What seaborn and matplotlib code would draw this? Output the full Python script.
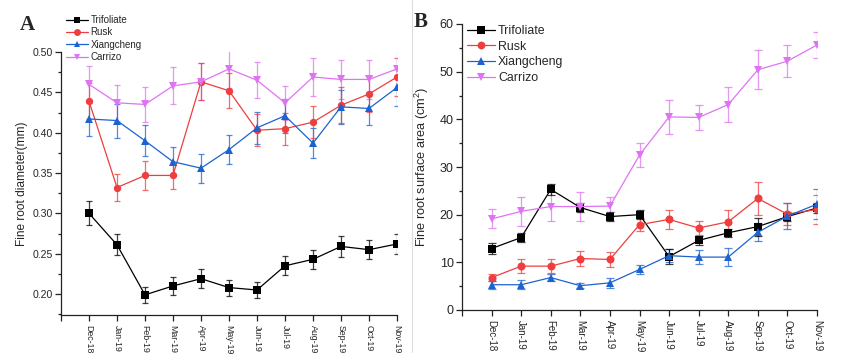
import numpy as np
import pandas as pd
import matplotlib
matplotlib.use("Agg")
import matplotlib.pyplot as plt
import seaborn as sns
from matplotlib.ticker import MultipleLocator, FixedLocator
from matplotlib.lines import Line2D

months = ['Dec-18', 'Jan-19', 'Feb-19', 'Mar-19', 'Apr-19', 'May-19',
          'Jun-19', 'Jul-19', 'Aug-19', 'Sep-19', 'Oct-19', 'Nov-19']
series = ['Trifoliate', 'Rusk', 'Xiangcheng', 'Carrizo']

# Panel A: fine root diameter (mm)
diam_trifoliate = [0.300, 0.261, 0.199, 0.210, 0.219, 0.208, 0.205, 0.235, 0.243, 0.259, 0.255, 0.262]
diam_trifoliate_err = [0.015, 0.013, 0.010, 0.011, 0.012, 0.010, 0.010, 0.012, 0.012, 0.0125, 0.012, 0.013]
diam_rusk = [0.439, 0.332, 0.347, 0.347, 0.463, 0.452, 0.403, 0.405, 0.413, 0.434, 0.448, 0.469]
diam_rusk_err = [0.022, 0.017, 0.018, 0.017, 0.023, 0.022, 0.020, 0.020, 0.020, 0.022, 0.022, 0.024]
diam_xiangcheng = [0.417, 0.415, 0.390, 0.364, 0.356, 0.379, 0.406, 0.421, 0.387, 0.432, 0.430, 0.456]
diam_xiangcheng_err = [0.021, 0.021, 0.019, 0.018, 0.018, 0.018, 0.020, 0.021, 0.019, 0.021, 0.021, 0.023]
diam_carrizo = [0.460, 0.437, 0.435, 0.458, 0.463, 0.479, 0.465, 0.437, 0.469, 0.466, 0.466, 0.479]
diam_carrizo_err = [0.023, 0.022, 0.022, 0.023, 0.023, 0.024, 0.022, 0.021, 0.024, 0.024, 0.024, 0.024]

# Panel B: fine root surface area (cm2)
area_trifoliate = [12.9, 15.2, 25.3, 21.5, 19.6, 20.0, 11.2, 14.6, 16.2, 17.5, 19.6, 21.4]
area_trifoliate_err = [1.2, 1.0, 1.2, 1.0, 1.0, 0.9, 1.5, 1.0, 0.8, 1.9, 1.0, 1.0]
area_rusk = [6.8, 9.2, 9.2, 10.8, 10.6, 17.9, 19.0, 17.2, 18.5, 23.4, 20.1, 21.1]
area_rusk_err = [0.7, 1.5, 1.4, 1.5, 1.5, 1.3, 2.0, 1.5, 2.5, 3.5, 2.3, 3.0]
area_xiangcheng = [5.3, 5.3, 6.8, 5.1, 5.7, 8.5, 11.4, 11.1, 11.1, 16.3, 19.7, 22.2]
area_xiangcheng_err = [0.8, 0.9, 0.7, 0.5, 1.0, 1.0, 1.4, 1.5, 1.9, 1.9, 2.7, 3.1]
area_carrizo = [19.1, 20.7, 21.7, 21.7, 21.8, 32.5, 40.5, 40.4, 43.1, 50.4, 52.2, 55.6]
area_carrizo_err = [2.0, 3.0, 3.0, 3.0, 2.0, 2.6, 3.5, 2.6, 3.6, 4.1, 3.4, 2.8]

colors = {'Trifoliate': '#000000', 'Rusk': '#EE3E3E',
          'Xiangcheng': '#1C63D0', 'Carrizo': '#DF73F3'}
markers = {'Trifoliate': 's', 'Rusk': 'o', 'Xiangcheng': '^', 'Carrizo': 'v'}


def long_df(vals, errs):
    rows = []
    for s, v, e in zip(series, vals, errs):
        for i, m in enumerate(months):
            rows.append({'idx': i, 'month': m, 'series': s, 'value': v[i], 'err': e[i]})
    return pd.DataFrame(rows)


dfA = long_df([diam_trifoliate, diam_rusk, diam_xiangcheng, diam_carrizo],
              [diam_trifoliate_err, diam_rusk_err, diam_xiangcheng_err, diam_carrizo_err])
dfB = long_df([area_trifoliate, area_rusk, area_xiangcheng, area_carrizo],
              [area_trifoliate_err, area_rusk_err, area_xiangcheng_err, area_carrizo_err])

sns.set_theme(style='white')
plt.rcParams['font.family'] = ['Liberation Sans', 'DejaVu Sans']
plt.rcParams['mathtext.fontset'] = 'custom'
plt.rcParams['mathtext.rm'] = 'Liberation Sans'

fig = plt.figure(figsize=(8.41, 3.63), dpi=100)
axA = fig.add_axes([61 / 841, 1 - 315 / 363, (397 - 61) / 841, (315 - 52) / 363])
axB = fig.add_axes([462 / 841, 1 - 310 / 363, (817 - 462) / 841, (310 - 24) / 363])


def draw(ax, df, ms, cap, fs_tick, fs_x):
    order = ['Carrizo', 'Xiangcheng', 'Rusk', 'Trifoliate']
    for z, s in enumerate(order):
        d = df[df['series'] == s]
        ax.errorbar(d['idx'], d['value'], yerr=d['err'], fmt='none',
                    ecolor=colors[s], elinewidth=0.9, capsize=cap,
                    capthick=0.9, alpha=0.75, zorder=2 + z)
    sns.lineplot(data=df, x='idx', y='value', hue='series', style='series',
                 hue_order=series, style_order=series, palette=colors,
                 markers=markers, dashes=False, markersize=ms, linewidth=0.9,
                 markeredgewidth=0, ax=ax, legend=False, zorder=10)
    ax.set_xlim(-1, 11)
    ax.xaxis.set_major_locator(FixedLocator(range(len(months))))
    ax.xaxis.set_minor_locator(FixedLocator([-1]))
    ax.set_xticklabels(months, rotation=-90, fontsize=fs_x)
    for sp in ['top', 'right']:
        ax.spines[sp].set_visible(False)
    for sp in ['left', 'bottom']:
        ax.spines[sp].set_color('#222222')
        ax.spines[sp].set_linewidth(0.9)
    ax.tick_params(axis='both', which='both', direction='out', color='#222222',
                   width=0.9, bottom=True, left=True)
    ax.tick_params(axis='both', which='major', length=4, pad=2)
    ax.tick_params(axis='x', which='major', pad=3)
    ax.tick_params(axis='y', which='minor', length=2.5)
    ax.tick_params(axis='x', which='minor', length=4)
    ax.tick_params(axis='y', labelsize=fs_tick)
    ax.set_xlabel('')
    ax.grid(False)


draw(axA, dfA, 5.3, 2.3, 7.6, 6.3)
axA.set_ylim(0.174, 0.50)
axA.yaxis.set_major_locator(FixedLocator([0.20, 0.25, 0.30, 0.35, 0.40, 0.45, 0.50]))
axA.yaxis.set_major_formatter(matplotlib.ticker.FormatStrFormatter('%.2f'))
axA.yaxis.set_minor_locator(FixedLocator([0.175, 0.225, 0.275, 0.325, 0.375, 0.425, 0.475]))
axA.set_ylabel('Fine root diameter(mm)', fontsize=8.6, labelpad=3)

draw(axB, dfB, 5.8, 2.6, 9, 7)
axB.set_ylim(0, 60)
axB.yaxis.set_major_locator(MultipleLocator(10))
axB.yaxis.set_minor_locator(MultipleLocator(5))
axB.set_ylabel('Fine root surface area (cm$^2$)', fontsize=9.2, labelpad=6)


def legend(ax, fs, loc_anchor, ms, spacing):
    handles = [Line2D([0], [0], color=colors[s], marker=markers[s], markersize=ms,
                      markeredgewidth=0, linewidth=0.9) for s in series]
    ax.legend(handles, series, loc='upper left', bbox_to_anchor=loc_anchor,
              bbox_transform=fig.transFigure, frameon=False, fontsize=fs,
              handlelength=2.3, handletextpad=0.2, labelspacing=spacing,
              borderpad=0, borderaxespad=0)


legend(axA, 7, (66 / 841, 1 - 15 / 363), 5, 0.25)
legend(axB, 8.9, (467 / 841, 1 - 25 / 363), 5.6, 0.3)

fig.text(20 / 841, 1 - 30 / 363, 'A', fontsize=15, fontweight='bold',
         family='Liberation Serif', ha='left', va='baseline')
fig.text(414 / 841, 1 - 27 / 363, 'B', fontsize=15, fontweight='bold',
         family='Liberation Serif', ha='left', va='baseline')
fig.add_artist(Line2D([412 / 841, 412 / 841], [1 - 352 / 363, 1.0],
                      transform=fig.transFigure, color='#dddddd', linewidth=0.8))

fig.savefig('out.png', dpi=100)
